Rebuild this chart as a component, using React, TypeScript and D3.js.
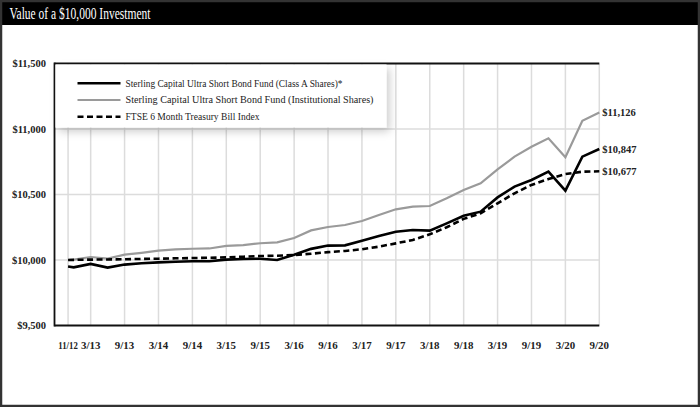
import React from "react";
import * as d3 from "d3";

const months = [0, 1, 4, 7, 10, 13, 16, 19, 22, 25, 28, 31, 34, 37, 40, 43, 46, 49, 52, 55, 58, 61, 64, 67, 70, 73, 76, 79, 82, 85, 88, 91, 94];
const classA = [9950, 9944, 9970, 9942, 9965, 9975, 9982, 9987, 9990, 9990, 10003, 10008, 10010, 10000, 10040, 10085, 10110, 10112, 10147, 10183, 10216, 10229, 10224, 10280, 10338, 10369, 10478, 10560, 10611, 10674, 10529, 10789, 10847];
const institutional = [10000, 10003, 10023, 10010, 10041, 10055, 10071, 10081, 10086, 10088, 10108, 10114, 10128, 10135, 10168, 10226, 10252, 10267, 10298, 10344, 10387, 10407, 10412, 10471, 10535, 10585, 10692, 10789, 10865, 10929, 10784, 11063, 11126];
const tbill = [10000, 10001, 10003, 10004, 10006, 10008, 10010, 10013, 10015, 10017, 10020, 10025, 10030, 10033, 10038, 10048, 10060, 10069, 10082, 10102, 10127, 10153, 10196, 10250, 10314, 10356, 10433, 10509, 10573, 10618, 10656, 10674, 10677];
const tickMonths = [0, 4, 10, 16, 22, 28, 34, 40, 46, 52, 58, 64, 70, 76, 82, 88, 94];
const tickLabels = ["11/12", "3/13", "9/13", "3/14", "9/14", "3/15", "9/15", "3/16", "9/16", "3/17", "9/17", "3/18", "9/18", "3/19", "9/19", "3/20", "9/20"];
const yTicks = [9500, 10000, 10500, 11000, 11500];
const seriesNames = [
  "Sterling Capital Ultra Short Bond Fund (Class A Shares)*",
  "Sterling Capital Ultra Short Bond Fund (Institutional Shares)",
  "FTSE 6 Month Treasury Bill Index",
];
const endLabels = ["$10,847", "$11,126", "$10,677"];

const W = 700;
const H = 407;
const serif = "'Liberation Serif', 'Times New Roman', serif";
const legendWidths = [217, 248, 134];

export default function App() {
  const x = d3.scaleLinear().domain([-2.4, 94]).range([54.5, 599.3]);
  const y = d3.scaleLinear().domain([9500, 11500]).range([325.5, 63.5]);
  const fmt = (v: number) => "$" + d3.format(",")(v);

  const series = [
    { values: classA, stroke: "#000", width: 2.6, dash: undefined as string | undefined },
    { values: institutional, stroke: "#9a9a9a", width: 2.2, dash: undefined as string | undefined },
    { values: tbill, stroke: "#000", width: 2.6, dash: "6,3.5" },
  ];
  const line = d3
    .line<number>()
    .x((_, i) => x(months[i]))
    .y((v) => y(v));

  const [x0, x1] = x.range();
  const [yb, yt] = y.range();

  return (
    <svg
      width={W}
      height={H}
      style={{ position: "absolute", left: 0, top: 0, background: "#fff" }}
      fontFamily={serif}
    >
      <defs>
        <filter id="shadow" x="-10%" y="-20%" width="125%" height="160%">
          <feDropShadow dx="3" dy="4" stdDeviation="4.5" floodColor="#000" floodOpacity="0.2" />
        </filter>
      </defs>
      <rect x={0} y={0} width={W} height={H} fill="#fff" />
      <rect x={0} y={0} width={W} height={25} fill="#000" />
      <text x={9.5} y={19} fill="#fff" fontSize={16.5} textLength={141} lengthAdjust="spacingAndGlyphs">
        Value of a $10,000 Investment
      </text>

      {/* vertical grid */}
      {tickMonths.map((m) => (
        <line key={"vg" + m} x1={x(m)} x2={x(m)} y1={yt} y2={yb} stroke="#dcdcdc" strokeWidth={1.5} />
      ))}
      {/* horizontal grid */}
      {yTicks.slice(1, -1).map((t) => (
        <line key={"hg" + t} x1={x0} x2={x1} y1={y(t)} y2={y(t)} stroke="#dcdcdc" strokeWidth={1.5} />
      ))}

      {/* axes */}
      <line x1={x0} x2={x1} y1={yt} y2={yt} stroke="#111" strokeWidth={1.8} />
      <line x1={x0} x2={x1} y1={yb} y2={yb} stroke="#111" strokeWidth={1.8} />
      <line x1={x0} x2={x0} y1={yt - 0.9} y2={yb + 0.9} stroke="#111" strokeWidth={1.8} />

      {yTicks.map((t) => (
        <text key={"yl" + t} x={46} y={y(t)} dy="0.35em" textAnchor="end" fontSize={10.5} fontWeight="bold" fill="#222">
          {fmt(t)}
        </text>
      ))}
      {tickMonths.map((m, i) => (
        <text
          key={"xl" + m}
          x={x(m) - 9.7}
          y={349}
          fontSize={10.5}
          fontWeight="bold"
          fill="#222"
          textLength={19.4}
          lengthAdjust="spacingAndGlyphs"
        >
          {tickLabels[i]}
        </text>
      ))}

      {/* series */}
      {[1, 2, 0].map((si) => (
        <path
          key={"s" + si}
          d={line(series[si].values) || ""}
          fill="none"
          stroke={series[si].stroke}
          strokeWidth={series[si].width}
          strokeDasharray={series[si].dash}
          strokeLinejoin="miter"
        />
      ))}

      {/* end labels */}
      {series.map((s, i) => (
        <text
          key={"el" + i}
          x={x(94) + 3}
          y={y(s.values[s.values.length - 1])}
          dy="0.35em"
          fontSize={10.5}
          fontWeight="bold"
          fill="#222"
        >
          {endLabels[i]}
        </text>
      ))}

      {/* legend */}
      <rect x={x0 + 1} y={yt + 1} width={331} height={63} fill="#fff" filter="url(#shadow)" />
      {series.map((s, i) => {
        const ly = 83.3 + i * 16.7;
        return (
          <g key={"lg" + i}>
            <line x1={77.5} x2={120.5} y1={ly} y2={ly} stroke={s.stroke} strokeWidth={s.width} strokeDasharray={s.dash} />
            <text
              x={125.5}
              y={ly}
              dy="0.33em"
              fontSize={10.5}
              fill="#222"
              textLength={legendWidths[i]}
              lengthAdjust="spacingAndGlyphs"
            >
              {seriesNames[i]}
            </text>
          </g>
        );
      })}

      {/* outer frame */}
      <rect x={1} y={1} width={W - 2} height={H - 2} fill="none" stroke="#333" strokeWidth={2.5} />
    </svg>
  );
}
